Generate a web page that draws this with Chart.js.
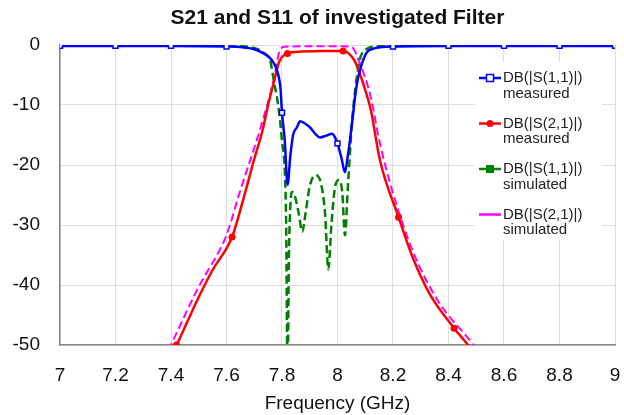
<!DOCTYPE html>
<html>
<head>
<meta charset="utf-8">
<script src="https://cdn.jsdelivr.net/npm/chart.js@4.4.1/dist/chart.umd.min.js"></script>
<style>
  html, body { margin: 0; padding: 0; background: #fff; }
  #wrap { width: 624px; height: 415px; position: relative; }
</style>
</head>
<body>
<div id="wrap"><canvas id="myChart"></canvas></div>
<script>
// タイトルと凡例
const chartTitle = 'S21 and S11 of investigated Filter';
const xTitle = 'Frequency (GHz)';
const seriesNames = ['DB(|S(1,1)|)', 'DB(|S(2,1)|)', 'DB(|S(1,1)|)', 'DB(|S(2,1)|)'];
const seriesNotes = ['measured', 'measured', 'simulated', 'simulated'];

// S11 measured
const s11MeasFreq = [7.0, 7.2, 7.4, 7.6, 7.65, 7.7, 7.73, 7.757, 7.77, 7.782, 7.795, 7.8, 7.81, 7.82, 7.83, 7.84, 7.854, 7.865, 7.88, 7.9, 7.92, 7.937, 7.96, 7.98, 7.99, 8.0, 8.015, 8.027, 8.037, 8.045, 8.055, 8.063, 8.072, 8.081, 8.095, 8.106, 8.13, 8.16, 8.2, 8.4, 8.6, 8.8, 9.0];
const s11MeasDb = [-0.15, -0.15, -0.15, -0.25, -0.35, -0.7, -1.3, -2.2, -3.0, -4.2, -7.5, -11.3, -16, -23.3, -18.5, -15, -13.7, -12.7, -13.0, -13.7, -14.8, -15.4, -15.1, -14.8, -15.3, -16.4, -19, -21.2, -18.5, -15.8, -12, -8.7, -6, -4.2, -2.2, -1.2, -0.6, -0.35, -0.25, -0.15, -0.15, -0.15, -0.15];

// S21 measured
const s21MeasFreq = [7.3, 7.42, 7.46, 7.5, 7.55, 7.62, 7.66, 7.7, 7.73, 7.75, 7.77, 7.79, 7.82, 7.87, 7.95, 8.02, 8.06, 8.08, 8.1, 8.12, 8.153, 8.22, 8.27, 8.33, 8.42, 8.47, 8.55];
const s21MeasDb = [-60, -50, -46, -42, -37.5, -32, -25.8, -19, -14.2, -10, -6.3, -2.8, -1.4, -1.1, -1.0, -1.0, -2.5, -4.7, -7.5, -10.8, -19.2, -28.7, -35.3, -41.3, -47.2, -50, -56];
const s21MarkerFreq = [7.42, 7.62, 7.82, 8.02, 8.22, 8.42];

// S11 simulated
const s11SimFreq = [7.0, 7.2, 7.4, 7.6, 7.7, 7.74, 7.757, 7.77, 7.79, 7.8, 7.81, 7.815, 7.82, 7.825, 7.83, 7.835, 7.845, 7.86, 7.873, 7.885, 7.9, 7.921, 7.94, 7.955, 7.967, 7.978, 7.99, 8.005, 8.017, 8.027, 8.037, 8.045, 8.05, 8.065, 8.08, 8.1, 8.15, 8.2, 8.4, 8.6, 8.8, 9.0];
const s11SimDb = [-0.05, -0.05, -0.05, -0.1, -0.5, -1.5, -2.5, -5.8, -11.3, -16, -21, -30, -55, -35, -27, -24.5, -25, -28, -31.1, -28, -23.5, -21.7, -23, -28, -37.4, -30, -24, -22.5, -24.5, -31.7, -24, -18, -14.2, -7, -2.5, -0.8, -0.2, -0.05, -0.05, -0.05, -0.05, -0.05];

// S21 simulated
const s21SimFreq = [7.3, 7.4, 7.5, 7.575, 7.6, 7.65, 7.72, 7.77, 7.79, 7.81, 7.9, 8.0, 8.05, 8.08, 8.12, 8.15, 8.2, 8.27, 8.36, 8.49, 8.55];
const s21SimDb = [-60, -50, -40.3, -34.2, -31.7, -24.2, -14.2, -5.8, -1.2, -0.3, -0.2, -0.2, -0.3, -3, -8.7, -15.8, -24.7, -34.2, -42.5, -50, -54];

const xMin = 7, xMax = 9, xStep = 0.2;
const yMin = -50, yMax = 0, yStep = 10;

function toPoints(xs, ys) {
  return xs.map((x, i) => ({ x: x, y: ys[i] }));
}
function onGrid(v) {
  return Math.abs(v / xStep - Math.round(v / xStep)) < 1e-6;
}

const data = {
  datasets: [
    {
      label: seriesNames[0] + ' ' + seriesNotes[0],
      data: toPoints(s11MeasFreq, s11MeasDb),
      borderColor: '#0000ff',
      borderWidth: 2.5,
      pointStyle: 'rect',
      pointRadius: c => (c.raw && onGrid(c.raw.x) ? 3.5 : 0),
      pointBorderWidth: 1.5,
      pointBackgroundColor: '#ffffff',
      pointBorderColor: '#0000ff',
      cubicInterpolationMode: 'monotone'
    },
    {
      label: seriesNames[1] + ' ' + seriesNotes[1],
      data: toPoints(s21MeasFreq, s21MeasDb),
      borderColor: '#ff0000',
      borderWidth: 2.5,
      pointStyle: 'circle',
      pointRadius: c => (c.raw && s21MarkerFreq.includes(c.raw.x) ? 3.5 : 0),
      pointBorderWidth: 0,
      pointBackgroundColor: '#ff0000',
      cubicInterpolationMode: 'monotone'
    },
    {
      label: seriesNames[2] + ' ' + seriesNotes[2],
      data: toPoints(s11SimFreq, s11SimDb),
      borderColor: '#008000',
      borderWidth: 2.5,
      borderDash: [8, 4],
      pointRadius: 0,
      pointStyle: 'rect',
      pointBackgroundColor: '#008000',
      cubicInterpolationMode: 'monotone'
    },
    {
      label: seriesNames[3] + ' ' + seriesNotes[3],
      data: toPoints(s21SimFreq, s21SimDb),
      borderColor: '#ff00ff',
      borderWidth: 2,
      borderDash: [8, 4],
      pointRadius: 0,
      pointStyle: false,
      cubicInterpolationMode: 'monotone'
    }
  ]
};

// タイトル（グラフ領域の中央に描く）
const centerTitle = {
  id: 'centerTitle',
  afterDraw(chart) {
    const ctx = chart.ctx;
    const a = chart.chartArea;
    ctx.save();
    ctx.fillStyle = '#111';
    ctx.font = 'bold 21px "Liberation Sans", Arial, sans-serif';
    ctx.textAlign = 'center';
    ctx.textBaseline = 'middle';
    ctx.fillText(chartTitle, (a.left + a.right) / 2, 18);
    ctx.restore();
  }
};

// 凡例（グラフ内に重ねて描く）
const overlayLegend = {
  id: 'overlayLegend',
  afterDatasetsDraw(chart) {
    const ctx = chart.ctx;
    const a = chart.chartArea;
    const lx = a.right - 136;
    const ly = a.top + 33;
    const gap = 45.5;
    ctx.save();
    ctx.fillStyle = '#ffffff';
    ctx.fillRect(lx - 4, ly - 16, 127, 178);
    chart.data.datasets.forEach((ds, i) => {
      const y = ly + i * gap;
      ctx.save();
      ctx.strokeStyle = ds.borderColor;
      ctx.lineWidth = 2.5;
      ctx.beginPath();
      ctx.moveTo(lx, y);
      ctx.lineTo(lx + 22, y);
      ctx.stroke();
      if (ds.pointStyle) {
        ctx.fillStyle = ds.pointBackgroundColor;
        ctx.strokeStyle = ds.pointBorderColor || ds.pointBackgroundColor;
        ctx.lineWidth = ds.pointBorderWidth || 1;
        const r = 3.5;
        if (ds.pointStyle === 'rect') {
          ctx.fillRect(lx + 11 - r, y - r, 2 * r, 2 * r);
          ctx.strokeRect(lx + 11 - r, y - r, 2 * r, 2 * r);
        } else {
          ctx.beginPath();
          ctx.arc(lx + 11, y, r, 0, Math.PI * 2);
          ctx.fill();
        }
      }
      ctx.restore();
      ctx.fillStyle = '#222';
      ctx.font = '15px "Liberation Sans", Arial, sans-serif';
      ctx.textAlign = 'left';
      ctx.textBaseline = 'middle';
      ctx.fillText(seriesNames[i], lx + 24, y);
      ctx.fillText(seriesNotes[i], lx + 24, y + 15.5);
    });
    ctx.restore();
  }
};

const config = {
  type: 'line',
  data: data,
  options: {
    responsive: true,
    maintainAspectRatio: false,
    animation: false,
    layout: { padding: { left: 0, right: 9, top: 45, bottom: 0 } },
    plugins: {
      legend: { display: false },
      tooltip: { enabled: false },
      title: { display: false }
    },
    scales: {
      x: {
        type: 'linear',
        min: xMin,
        max: xMax,
        afterFit: s => { s.height = 70; s.paddingLeft = 0; s.paddingRight = 0; },
        ticks: {
          stepSize: xStep,
          color: '#111',
          padding: 19,
          font: { family: '"Liberation Sans", Arial, sans-serif', size: 19 },
          callback: v => String(Math.round(v * 10) / 10),
          maxRotation: 0,
          autoSkip: false
        },
        grid: { color: '#dedede', lineWidth: 1, drawTicks: false },
        border: { color: '#888', width: 1.5 },
        title: {
          display: true,
          text: xTitle,
          color: '#111',
          font: { family: '"Liberation Sans", Arial, sans-serif', size: 19 },
          padding: { top: 0, bottom: 0 }
        }
      },
      y: {
        min: yMin,
        max: yMax,
        afterFit: s => { s.width = 60; s.paddingTop = 0; s.paddingBottom = 0; },
        ticks: {
          stepSize: yStep,
          color: '#111',
          padding: 20,
          font: { family: '"Liberation Sans", Arial, sans-serif', size: 19 }
        },
        grid: { color: '#dedede', lineWidth: 1, drawTicks: false },
        border: { color: '#888', width: 1.5 }
      }
    }
  },
  plugins: [overlayLegend, centerTitle]
};

const myChart = new Chart(document.getElementById('myChart'), config);
</script>
</body>
</html>
